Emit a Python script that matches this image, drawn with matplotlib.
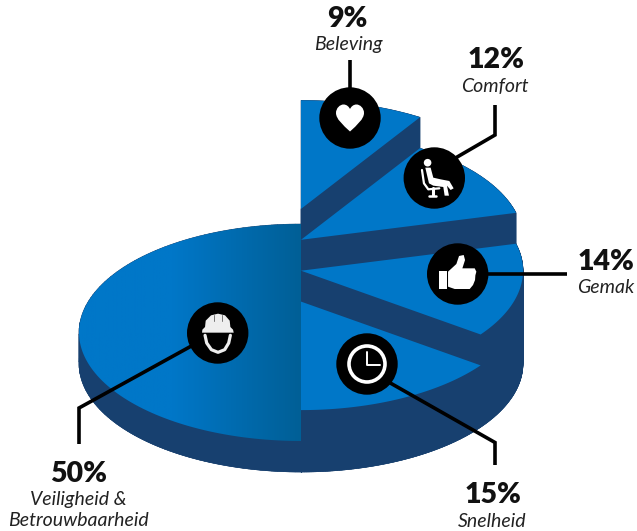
import matplotlib
matplotlib.use("Agg")
import matplotlib.pyplot as plt
import numpy as np
from matplotlib.collections import PolyCollection
from matplotlib.colors import LinearSegmentedColormap
from matplotlib.patches import Circle, PathPatch, Polygon
from matplotlib.path import Path

# slices, clockwise from the top of the disc
percentages = [9, 12, 14, 15, 50]
percent_labels = ["9%", "12%", "14%", "15%", "50%"]
names = ["Beleving", "Comfort", "Gemak", "Snelheid", "Veiligheid &\nBetrouwbaarheid"]

# how many steps each slice sits above the base level
raise_steps = [4, 3, 2, 1, 0]

BLUE = "#0077c8"
BLUE_DARK = "#005f96"
NAVY = "#17406f"
BLACK = "#000000"
WHITE = "#ffffff"
ICON_R = 30.7

cx, cy = 301, 332.5
rx, ry = 222, 108.5
step = 30.9
depth = 31


def wedge_points(start, end, y0):
    t = np.linspace(start, end, 120)
    x = cx + rx * np.sin(t)
    y = y0 - ry * np.cos(t)
    return np.column_stack([np.r_[cx, x], np.r_[y0, y]])


fig = plt.figure(figsize=(6.37, 5.31), dpi=100)
ax = fig.add_axes([0, 0, 1, 1])

# side walls: every slice goes down to the same floor
fractions = np.array(percentages) / sum(percentages)
edges = np.r_[0, np.cumsum(fractions)] * 2 * np.pi
floor_y = cy + depth
for i in range(len(percentages)):
    top_y = cy - raise_steps[i] * step
    top = wedge_points(edges[i], edges[i + 1], top_y)
    bottom = wedge_points(edges[i], edges[i + 1], floor_y)
    n = len(top)
    quads = [[top[j], top[(j + 1) % n], bottom[(j + 1) % n], bottom[j]] for j in range(n)]
    ax.add_collection(PolyCollection(quads, facecolors=NAVY, edgecolors=NAVY, linewidths=0.4))
    ax.add_patch(Polygon(bottom, closed=True, fc=NAVY, ec=NAVY, lw=0.4))

# top faces
for i in range(len(percentages)):
    top_y = cy - raise_steps[i] * step
    pts = wedge_points(edges[i], edges[i + 1], top_y)
    if percentages[i] == max(percentages):
        # big half fades towards the cut
        face = Polygon(pts, closed=True, fc="none", ec="none")
        ax.add_patch(face)
        cmap = LinearSegmentedColormap.from_list("fade", [(0, BLUE), (0.42, BLUE), (1, BLUE_DARK)])
        grad = ax.imshow(np.linspace(0, 1, 256)[None, :], cmap=cmap, aspect="auto",
                         extent=[cx - rx, cx, cy + ry, cy - ry], zorder=2)
        grad.set_clip_path(face)
    else:
        ax.add_patch(Polygon(pts, closed=True, fc=BLUE, ec="none", zorder=2))

# leader lines
leaders = [
    [(350, 60), (350, 95)],
    [(495, 105), (495, 135), (452, 160)],
    [(480, 274), (567, 274)],
    [(385, 380), (495, 442.5), (495, 465)],
    [(195, 344), (79, 408), (79, 444)],
]
for line in leaders:
    xs, ys = zip(*line)
    ax.plot(xs, ys, color=BLACK, lw=2.6, solid_capstyle="butt", solid_joinstyle="miter", zorder=3)

# icon discs
icon_centers = [(350, 118), (434.3, 178), (457.7, 274), (367, 364), (217.7, 333)]
for c in icon_centers:
    ax.add_patch(Circle(c, ICON_R, fc=BLACK, ec="none", zorder=4))


def shape(center, pts, origin, color=WHITE, z=5):
    # outline given at 3x scale around origin
    p = [(center[0] + (x - origin[0]) / 3, center[1] + (y - origin[1]) / 3) for x, y in pts]
    ax.add_patch(Polygon(p, closed=True, fc=color, ec="none", zorder=z))


def stroke(center, pts, origin, lw=1.5, color=WHITE, z=5):
    xs = [center[0] + (x - origin[0]) / 3 for x, y in pts]
    ys = [center[1] + (y - origin[1]) / 3 for x, y in pts]
    ax.plot(xs, ys, color=color, lw=lw, solid_capstyle="round", solid_joinstyle="round", zorder=z)


# heart
hx, hy = icon_centers[0]
heart_verts = [(0, 13.5), (-7, 7), (-14, 1), (-14, -5), (-14, -10), (-10, -13.5), (-6.5, -13.5),
               (-3, -13.5), (-1, -11), (0, -9), (1, -11), (3, -13.5), (6.5, -13.5),
               (10, -13.5), (14, -10), (14, -5), (14, 1), (7, 7), (0, 13.5)]
heart_codes = [Path.MOVETO] + [Path.CURVE4] * 18
ax.add_patch(PathPatch(Path([(hx + a, hy + b) for a, b in heart_verts], heart_codes),
                       fc=WHITE, ec="none", zorder=5))

# seated person
pc, po = icon_centers[1], (103, 99)
ax.add_patch(Circle((pc[0] - 6.7, pc[1] - 15.3), 3.8, fc=WHITE, ec="none", zorder=5))
shape(pc, [(76, 68), (92, 68), (100, 98), (122, 103), (148, 108), (161, 130), (152, 135),
           (141, 122), (147, 152), (134, 152), (130, 126), (100, 122), (87, 115)], po)
stroke(pc, [(66, 75), (72, 115), (85, 133), (118, 130)], po, lw=1.6)
stroke(pc, [(98, 130), (98, 150)], po, lw=2.2)
stroke(pc, [(87, 153), (109, 153)], po, lw=1.8)

# thumbs up
tc, to = icon_centers[2], (104, 102)
shape(tc, [(48, 92), (72, 92), (72, 148), (48, 148)], to)
shape(tc, [(75, 95), (100, 72), (108, 48), (122, 45), (126, 60), (118, 85), (155, 85), (160, 95),
           (157, 106), (156, 120), (150, 135), (140, 147), (95, 147), (75, 140)], to)

# clock
kc = icon_centers[3]
ax.add_patch(Circle(kc, 18, fc="none", ec=WHITE, lw=2.6, zorder=5))
stroke(kc, [(0, -36), (0, 3), (39, 3)], (0, 0), lw=1.4)

# helmet
hc, ho = icon_centers[4], (104, 105)
HELMET = "#eeeeee"
shape(hc, [(57, 104), (58, 95), (66, 87), (68, 68), (84, 52), (105, 47), (126, 52), (140, 68),
           (142, 87), (150, 95), (152, 104)], ho, color=HELMET)
stroke(hc, [(66, 112), (71, 135), (85, 155), (105, 163), (125, 155), (137, 135), (142, 112)], ho,
       lw=2.3, color=HELMET)
stroke(hc, [(92, 52), (92, 68)], ho, lw=0.7, color="#777777", z=6)
stroke(hc, [(118, 52), (118, 68)], ho, lw=0.7, color="#777777", z=6)

# percentages and names, one text per line
percent_pos = [(347.5, 27), (496, 68), (606, 270), (493, 503), (79, 482)]
name_pos = [(348, 50), (495, 92), (606, 293), (492, 527), (78.5, 505)]
name_line_gap = 21
for i in range(len(percentages)):
    ax.text(percent_pos[i][0], percent_pos[i][1], percent_labels[i], fontsize=20.5, family="Lato",
            weight="heavy", color="#111111", ha="center", va="baseline", zorder=6)
    for k, part in enumerate(names[i].split("\n")):
        ax.text(name_pos[i][0], name_pos[i][1] + k * name_line_gap, part, fontsize=14,
                family="Lato", style="italic", color="#222222", ha="center", va="baseline", zorder=6)

ax.set_xlim(0, 637)
ax.set_ylim(531, 0)
ax.axis("off")
fig.savefig("out.png", dpi=100, facecolor=WHITE)
